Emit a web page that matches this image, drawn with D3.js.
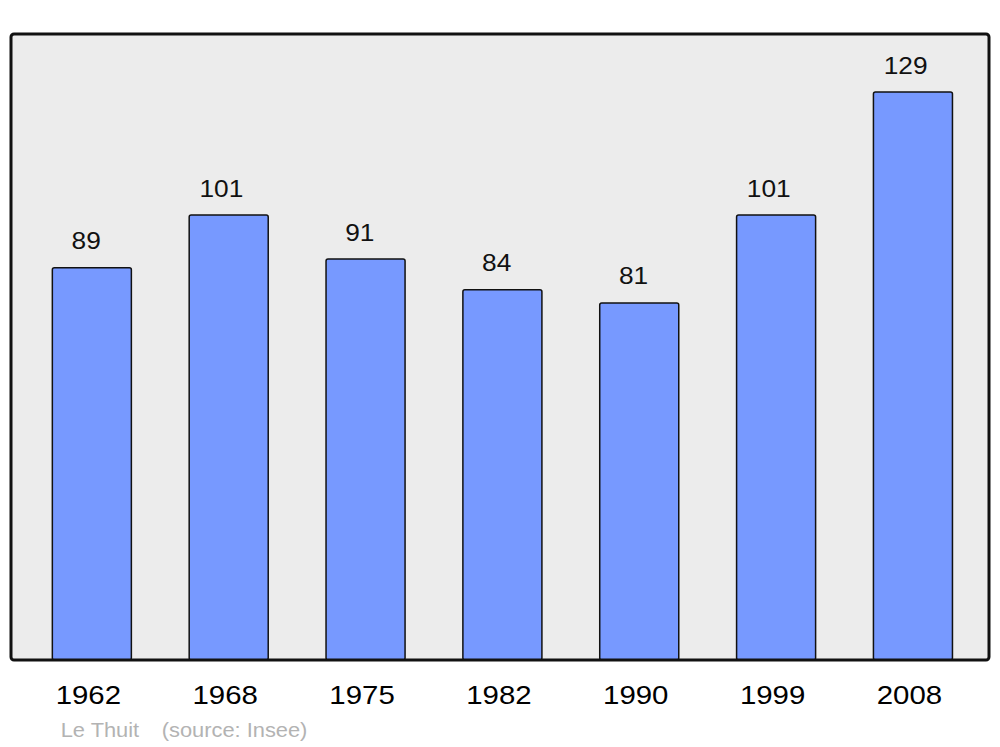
<!DOCTYPE html>
<html><head><meta charset="utf-8">
<script src="https://cdn.jsdelivr.net/npm/d3@7"></script>
<style>body{margin:0;background:#fff}svg{display:block}</style>
</head><body>
<script>
const years = ["1962","1968","1975","1982","1990","1999","2008"];
const population = [89,101,91,84,81,101,129];
const placeName = "Le Thuit";
const sourceText = "(source: Insee)";

const W = 1000, H = 747;
const svg = d3.select("body").append("svg").attr("width", W).attr("height", H);
const font = "'Liberation Sans', Arial, sans-serif";
const SX = 1.11;   // horizontal stretch of the original numerals
const SXT = 1.04;  // horizontal stretch of the original caption

const frame = {x0: 11, y0: 34, x1: 989, y1: 660};
const baseline = 659;

svg.append("rect").attr("x", frame.x0).attr("y", frame.y0)
  .attr("width", frame.x1 - frame.x0).attr("height", frame.y1 - frame.y0)
  .attr("rx", 3).attr("fill", "#ececec").attr("stroke", "none");

const x = d3.scaleBand().domain(years).range([23.6, 981.2]).paddingInner(0.4225).paddingOuter(0.21);
const y = d3.scaleLinear().domain([0, 129]).range([baseline, 92]);

const g = svg.append("g");
g.selectAll("rect.bar").data(population).join("rect").attr("class","bar")
  .attr("x", (d,i) => x(years[i]))
  .attr("y", d => y(d))
  .attr("width", x.bandwidth())
  .attr("height", d => baseline - y(d) + 1)
  .attr("rx", 2)
  .attr("fill", "#7799ff").attr("stroke", "#111").attr("stroke-width", 1.5);

g.selectAll("text.val").data(population).join("text").attr("class","val")
  .attr("transform", (d,i) => {
    const cx = x(years[i]) + x.bandwidth()/2 - (2.5 + 1.6*String(d).length);
    return `translate(${cx},${y(d) - 18.5}) scale(${SX},1)`;
  })
  .attr("text-anchor", "middle").attr("font-family", font).attr("font-size", 23.7)
  .attr("fill", "#111").text(d => d);

svg.append("rect").attr("x", frame.x0).attr("y", frame.y0)
  .attr("width", frame.x1 - frame.x0).attr("height", frame.y1 - frame.y0)
  .attr("rx", 3).attr("fill", "none").attr("stroke", "#111").attr("stroke-width", 3);

const xAxis = d3.axisBottom(x).tickSize(0).tickPadding(0);
const ax = svg.append("g").attr("transform", `translate(0,${baseline})`).call(xAxis);
ax.select(".domain").remove();
ax.selectAll("text").attr("font-family", font).attr("font-size", 26.5).attr("fill", "#000")
  .attr("dy", null).attr("y", 0)
  .attr("transform", `translate(-3.5,45) scale(${SX},1)`);

svg.append("text").attr("transform", `translate(60.7,737) scale(${SXT},1)`)
  .attr("font-family", font).attr("font-size", 21).attr("fill", "#b3b3b3").text(placeName);
svg.append("text").attr("transform", `translate(161.8,737) scale(${SXT},1)`)
  .attr("font-family", font).attr("font-size", 21).attr("fill", "#b3b3b3").text(sourceText);
</script>
</body></html>
